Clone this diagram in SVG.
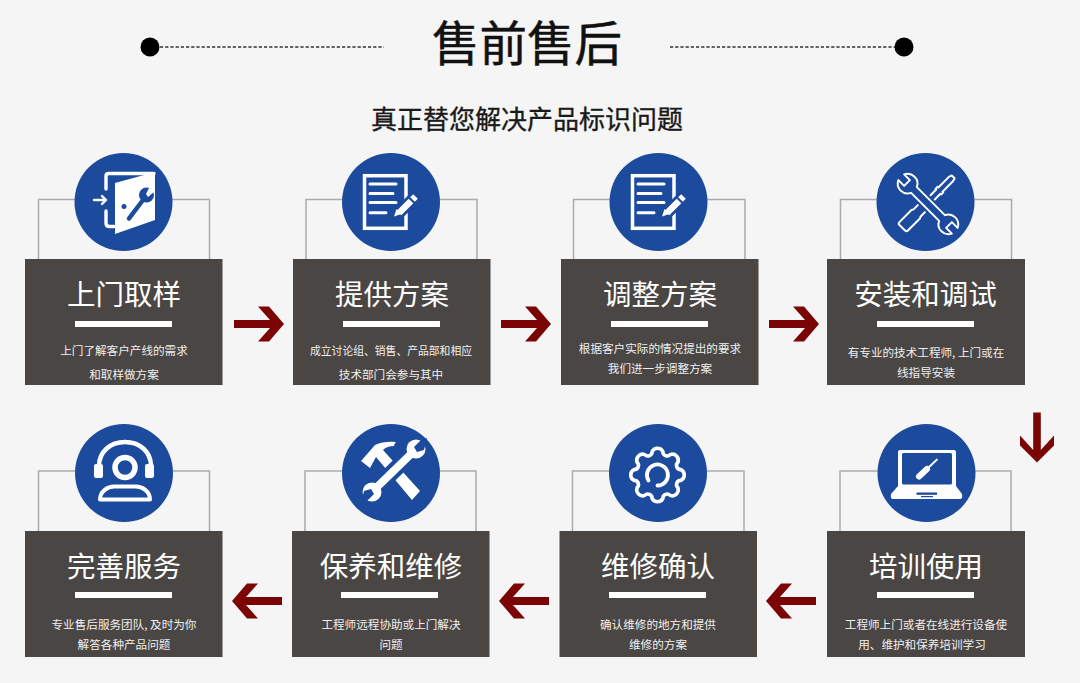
<svg xmlns="http://www.w3.org/2000/svg" width="1080" height="683" viewBox="0 0 1080 683">
<style>
text{font-family:"Noto Sans CJK SC","Noto Sans",sans-serif;text-anchor:middle}
.t{font-size:47.500px;fill:#111;font-weight:400;stroke:#111;stroke-width:.5px}
.s{font-size:26px;fill:#1a1a1a;font-weight:400;stroke:#1a1a1a;stroke-width:.35px}
.h{font-size:28.5px;fill:#fff;font-weight:400}
.d{font-size:11.6px;fill:#f0f0f0}
.box{fill:#4a4644}
.bar{fill:#fff}
.c{fill:#1c4a9c}
.b{fill:none;stroke:#aaa;stroke-width:1.5}
.dash{fill:none;stroke:#333;stroke-width:1.4;stroke-dasharray:3.2 2}
.arr{fill:#7b0505}
.w{fill:#fff}
.wl{fill:none;stroke:#fff;stroke-linecap:round;stroke-linejoin:round}
.bl{fill:none;stroke:#1c4a9c;stroke-linecap:round;stroke-linejoin:round}
</style>
<defs>
<polygon id="arrow" points="0,-4 36,-4 24,-17.500 35,-17.500 50,0 35,17.500 24,17.500 36,4 0,4"/>
<g id="doc">
<rect x="-24.500" y="-26.300" width="41.500" height="52.600" fill="none" stroke="#fff" stroke-width="3.500"/>
<g class="wl" stroke-width="3"><path d="M-19,-18H7M-19,-8.500H4M-19,.5H7M-19,10.700H-3"/></g>
<path d="M11,10L25,-4" class="bl" stroke-width="12"/>
<path d="M10,11L22,-1" stroke="#fff" stroke-width="6.500" fill="none"/>
<path d="M23.500,-2.500L26.500,-5.500" stroke="#fff" stroke-width="6.500" fill="none"/>
<polygon class="w" points="5,14.500 7.500,7 12.500,12"/>
</g>
</defs>
<rect width="1080" height="683" fill="#f5f5f5"/>
<g id="header">
<circle cx="150" cy="47" r="9.500" fill="#000"/>
<path class="dash" d="M160,47H384"/>
<path class="dash" d="M670,47H895"/>
<circle cx="904" cy="47" r="9.500" fill="#000"/>
<text class="t" x="527" y="61">售前售后</text>
<text class="s" x="527" y="129">真正替您解决产品标识问题</text>
</g>
<g id="connectors" class="arr">
<use href="#arrow" transform="translate(234,324)"/>
<use href="#arrow" transform="translate(501,324)"/>
<use href="#arrow" transform="translate(769,324)"/>
<polygon points="1033.200,412.500 1040.800,412.500 1040.800,450 1054,435.500 1054,445.500 1037,462.500 1020,445.500 1020,435.500 1033.200,450"/>
<use href="#arrow" transform="translate(816,601) rotate(180)"/>
<use href="#arrow" transform="translate(549,601) rotate(180)"/>
<use href="#arrow" transform="translate(282,601) rotate(180)"/>
</g>

<g id="node-1">
<path class="b" d="M38.500,259V199.500H209.500V259"/>
<rect class="box" x="25" y="259" width="197.500" height="126"/>
<circle class="c" cx="123.500" cy="202" r="49"/>
<path class="wl" stroke-width="3.400" d="M106,189V176Q106,173.500 109,173.500H154M106,211V223Q106,226.500 109,226.500H114"/>
<polygon class="w" points="115,183 155,172 155,220 115,234"/>
<path class="wl" stroke-width="2.400" d="M94,200H106M102,196L106,200L102,204"/>
<circle cx="124" cy="206.500" r="2.500" fill="#1c4a9c"/>
<path class="bl" stroke-width="4.500" d="M129,218.500L143,200"/>
<circle cx="146.500" cy="195" r="7.500" fill="#1c4a9c"/>
<polygon class="w" points="146,194 150,186 155,191 148,197"/>
<text class="h" x="124" y="305">上门取样</text>
<rect class="bar" x="75" y="321" width="97" height="6"/>
<text class="d" x="124" y="355">上门了解客户产线的需求</text>
<text class="d" x="124" y="379">和取样做方案</text>
</g>

<g id="node-2">
<path class="b" d="M306,259V199.500H477V259"/>
<rect class="box" x="293" y="259" width="197.500" height="126"/>
<circle class="c" cx="391" cy="202" r="49"/>
<use href="#doc" transform="translate(389,202)"/>
<text class="h" x="392" y="305">提供方案</text>
<rect class="bar" x="343" y="321" width="97" height="6"/>
<text class="d" x="391" y="355" textLength="162" lengthAdjust="spacingAndGlyphs">成立讨论组、销售、产品部和相应</text>
<text class="d" x="391" y="379">技术部门会参与其中</text>
</g>

<g id="node-3">
<path class="b" d="M573.500,259V199.500H745V259"/>
<rect class="box" x="561" y="259" width="197.500" height="126"/>
<circle class="c" cx="658.500" cy="202" r="49"/>
<use href="#doc" transform="translate(657,202)"/>
<text class="h" x="660" y="305">调整方案</text>
<rect class="bar" x="611" y="321" width="97" height="6"/>
<text class="d" x="660" y="353">根据客户实际的情况提出的要求</text>
<text class="d" x="660" y="373">我们进一步调整方案</text>
</g>

<g id="node-4">
<path class="b" d="M840.500,259V199.500H1011.500V259"/>
<rect class="box" x="827" y="259" width="198" height="126"/>
<circle class="c" cx="925.500" cy="202" r="49"/>
<g transform="translate(927,203) rotate(-45)">
<path class="wl" stroke-width="2" d="M-8,-5H-14L-16,-6H-33Q-35,-6 -35,-4V4Q-35,6 -33,6H-16L-14,5H-8"/>
<path class="wl" stroke-width="2" d="M8,-3H16V-4H19V-3H34L37,-2V2L34,3H19V4H16V3H8" />
</g>
<g transform="translate(928,204) rotate(45) scale(.9)">
<path d="M-22,-4.500H22A11,11 0 0 1 42,-4.500H33V4.500H42A11,11 0 0 1 22,4.500H-22A11,11 0 0 1 -42,4.500H-33V-4.500H-42A11,11 0 0 1 -22,-4.500Z" fill="#1c4a9c" stroke="#fff" stroke-width="2.200" stroke-linejoin="round"/>
</g>
<text class="h" x="925.500" y="305">安装和调试</text>
<rect class="bar" x="877" y="321" width="97" height="6"/>
<text class="d" x="926" y="357">有专业的技术工程师, 上门或在</text>
<text class="d" x="926" y="377">线指导安装</text>
</g>

<g id="node-5">
<path class="b" d="M840,531V471H1011V531"/>
<rect class="box" x="827" y="531" width="198" height="126"/>
<circle class="c" cx="926.500" cy="473" r="49"/>
<path class="w" d="M900,450H954Q956,450 956,452V486L962,494Q963,499 960,499H893Q890,499 891,494L898,486V452Q898,450 900,450Z"/>
<rect class="c" x="902" y="453" width="50" height="31.500" rx="1.500"/>
<path d="M919,476.500L927,469" stroke="#fff" stroke-width="6" stroke-linecap="round"/>
<path d="M927,469L937,459.500" stroke="#fff" stroke-width="1.800" stroke-linecap="round"/>
<rect class="c" x="916.500" y="492.500" width="20.500" height="2.300"/>
<rect class="c" x="921" y="496" width="12" height="1.200"/>
<text class="h" x="926" y="577">培训使用</text>
<rect class="bar" x="877" y="592" width="97" height="6"/>
<text class="d" x="926" y="629">工程师上门或者在线进行设备使</text>
<text class="d" x="922" y="649">用、维护和保养培训学习</text>
</g>

<g id="node-6">
<path class="b" d="M572.500,531V471H744V531"/>
<rect class="box" x="559.500" y="531" width="197.500" height="126"/>
<circle class="c" cx="658" cy="473" r="49"/>
<g transform="translate(657.500,475)">
<path class="wl" stroke-width="3.600" d="M-5.400,-23.400A6,6 0 0 1 5.400,-23.400A4.200,4.200 0 0 0 12.700,-20.400A6,6 0 0 1 20.400,-12.700A4.200,4.200 0 0 0 23.400,-5.400A6,6 0 0 1 23.400,5.400A4.200,4.200 0 0 0 20.400,12.700A6,6 0 0 1 12.700,20.400A4.200,4.200 0 0 0 5.400,23.400A6,6 0 0 1 -5.400,23.400A4.200,4.200 0 0 0 -12.700,20.400A6,6 0 0 1 -20.400,12.700A4.200,4.200 0 0 0 -23.400,5.400A6,6 0 0 1 -23.400,-5.400A4.200,4.200 0 0 0 -20.400,-12.700A6,6 0 0 1 -12.700,-20.400A4.200,4.200 0 0 0 -5.400,-23.400Z"/>
<path class="wl" stroke-width="3.800" d="M-9,5.500A10.500,10.500 0 1 1 0,10.500"/>
</g>
<text class="h" x="658" y="577">维修确认</text>
<rect class="bar" x="609" y="592" width="97" height="6"/>
<text class="d" x="658" y="629">确认维修的地方和提供</text>
<text class="d" x="658" y="649">维修的方案</text>
</g>

<g id="node-7">
<path class="b" d="M305,531V471H476V531"/>
<rect class="box" x="292" y="531" width="197.500" height="126"/>
<circle class="c" cx="391" cy="473" r="49"/>
<path class="w" d="M361,461L375,445Q384,441 396,442Q394,444 394,446Q387,446 383,450L420,491L412,500L376,457L370,468Z"/>
<path d="M373,491L413,452" stroke="#1c4a9c" stroke-width="16" fill="none"/>
<path d="M376,488L411,454" stroke="#fff" stroke-width="8"/>
<circle cx="416" cy="449" r="9.500" fill="#fff"/>
<circle cx="372" cy="492" r="9.500" fill="#fff"/>
<path d="M420,441L414,447L417,452L424,450L427,438Z" fill="#1c4a9c"/>
<path d="M368,500L374,494L371,489L364,491L361,503Z" fill="#1c4a9c"/>
<text class="h" x="391" y="577">保养和维修</text>
<rect class="bar" x="341" y="592" width="97" height="6"/>
<text class="d" x="391" y="629">工程师远程协助或上门解决</text>
<text class="d" x="391" y="649">问题</text>
</g>

<g id="node-8">
<path class="b" d="M38.500,531V471H209.500V531"/>
<rect class="box" x="25" y="531" width="197.500" height="126"/>
<circle class="c" cx="124" cy="473" r="49"/>
<path class="wl" stroke-width="4.500" d="M99,470V466C99,452 110,442 125,442C140,442 151,452 151,466V470"/>
<rect class="w" x="94" y="464" width="9" height="14" rx="2"/>
<rect class="w" x="145" y="464" width="9" height="14" rx="2"/>
<circle class="wl" cx="125" cy="467.500" r="10" stroke-width="5.500"/>
<path class="wl" stroke-width="4" d="M100,499.500C100,491 108,486.500 114,486.500H136C142,486.500 150,491 150,499.500Z"/>
<text class="h" x="124" y="577">完善服务</text>
<rect class="bar" x="75" y="592" width="97" height="6"/>
<text class="d" x="124" y="629">专业售后服务团队, 及时为你</text>
<text class="d" x="124" y="649">解答各种产品问题</text>
</g>
</svg>
